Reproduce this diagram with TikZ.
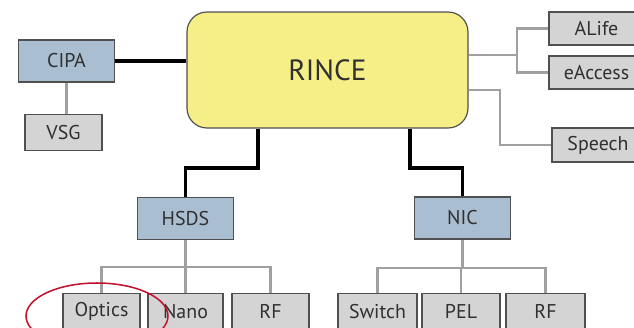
\documentclass[tikz,border=0pt]{standalone}
\usepackage{fontspec}
\setmainfont{PT Sans}
\usepackage{tikz}
\usetikzlibrary{positioning,calc}
\definecolor{hubyellow}{HTML}{F6EF88}
\definecolor{teamblue}{HTML}{A9BED1}
\definecolor{leafgray}{HTML}{D4D4D4}
\definecolor{linkgray}{HTML}{A0A0A0}
\definecolor{boxedge}{HTML}{505050}
\definecolor{labelgray}{HTML}{303030}
\definecolor{markred}{HTML}{C0122C}
\tikzset{
  hub/.style={rounded corners=0.6cm, draw=boxedge, fill=hubyellow, line width=1pt,
              minimum width=8.43cm, minimum height=3.48cm, text=labelgray,
              font=\fontsize{25}{28}\selectfont},
  team/.style={draw=boxedge, fill=teamblue, line width=1.2pt, text=labelgray,
               minimum width=2.88cm, minimum height=1.25cm, inner sep=0pt,
               font=\fontsize{17}{19}\selectfont},
  leaf/.style={draw=boxedge, fill=leafgray, line width=1.2pt, text=labelgray,
               minimum width=2.31cm, minimum height=1.08cm, inner sep=0pt,
               font=\fontsize{17}{19}\selectfont},
  mainlink/.style={draw=black, line width=3.2pt},
  sublink/.style={draw=linkgray, line width=2.2pt},
}

\begin{document}
\begin{tikzpicture}[x=0.03cm, y=-0.03cm]
  \clip (0,0) rectangle (634,327);
  \fill[white] (0,0) rectangle (634,327);
  % centre and first level
  \node[hub] (rince) at (327.5,70) {RINCE};
  \node[team] (cipa) at (66.5,61) {CIPA};
  \node[leaf] (vsg) at (63.5,132.5) {VSG};
  \node[team] (hsds) at (185.5,218.5) {HSDS};
  \node[team] (nic) at (462.5,218) {NIC};
  % right hand leaves (cut by the page edge)
  \node[leaf, minimum width=2.85cm, minimum height=0.99cm] (alife) at (596.5,28.5) {ALife};
  \node[leaf, minimum width=2.85cm, minimum height=0.99cm] (eaccess) at (596.5,72.5) {eAccess};
  \node[leaf, minimum width=2.76cm, minimum height=1.02cm] (speech) at (598,145) {Speech};
  % bottom leaves
  \node[leaf] (optics) at (101.5,311.5) {Optics};
  \node[leaf, minimum width=2.25cm] (nano) at (185.5,311.5) {Nano};
  \node[leaf] (rfa) at (270.5,311.5) {RF};
  \node[leaf, minimum width=2.37cm] (switch) at (377.5,311.5) {Switch};
  \node[leaf, minimum width=2.34cm] (pel) at (461,311.5) {PEL};
  \node[leaf, minimum width=2.37cm] (rfb) at (545.5,311.5) {RF};

  % bend points
  \coordinate (hbend) at (258,168);
  \coordinate (nbend) at (410,168);
  \coordinate (rjoin) at (517,55);
  \coordinate (sjoin) at (500,90);
  \coordinate (hbar) at (0,267);
  \coordinate (nbar) at (0,268);

  % black links
  \draw[mainlink] (cipa.east) -- (rince.west |- cipa.east);
  \draw[mainlink] (rince.south -| hbend) -- (hbend) -| (hsds.north);
  \draw[mainlink] (rince.south -| nbend) -- (nbend) -| (nic.north);

  % gray links
  \draw[sublink] (cipa.south) -- (vsg.north -| cipa.south);
  \draw[sublink] (rince.east |- rjoin) -- (rjoin);
  \draw[sublink] (alife.west) -| (rjoin) |- (eaccess.west);
  \draw[sublink] (rince.east |- sjoin) -- (sjoin) |- (speech.west);
  \draw[sublink] (hsds.south) -- (hsds.south |- hbar);
  \draw[sublink] (optics.north) |- (hsds.south |- hbar) -| (rfa.north);
  \draw[sublink] (nano.north) -- (nano.north |- hbar);
  \draw[sublink] (nic.south) -- (nic.south |- nbar);
  \draw[sublink] (switch.north) |- (nic.south |- nbar) -| (rfb.north);
  \draw[sublink] (pel.north) -- (pel.north |- nbar);

  % red mark round Optics
  \draw[markred, line width=1.3pt] (97,316) ellipse [x radius=71, y radius=33];
\end{tikzpicture}
\end{document}
